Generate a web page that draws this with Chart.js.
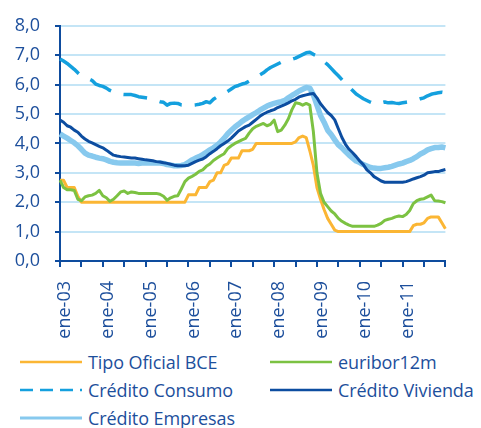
<!DOCTYPE html>
<html>
<head>
<meta charset="utf-8">
<script src="https://cdn.jsdelivr.net/npm/chart.js@4"></script>
<style>
  html, body { margin: 0; padding: 0; background: #fff; }
  body { width: 481px; height: 428px; position: relative; overflow: hidden; font-family: "Open Sans", sans-serif; }
  #wrap { position: absolute; left: 0; top: 0; width: 481px; height: 345px; }
  .lg { position: absolute; height: 24px; display: flex; align-items: center; color: #1d4f9c; font-size: 18px; white-space: nowrap; letter-spacing: -0.1px; }
  .lg svg { margin-right: 6px; }
</style>
</head>
<body>
<div id="wrap"><canvas id="c"></canvas></div>
<div id="legend"></div>
<script>
// ---- data (monthly, ene-03 .. ene-12) ----
const months = ['ene','feb','mar','abr','may','jun','jul','ago','sep','oct','nov','dic'];
const categories = [];
for (let y = 3; y <= 12; y++) {
  for (let m = 0; m < 12; m++) {
    if (y === 12 && m > 0) break;
    categories.push(months[m] + '-' + String(y).padStart(2, '0'));
  }
}

const tipoOficialBCE = [
  2.75, 2.75, 2.5, 2.5, 2.5, 2.2, 2.0, 2.0, 2.0, 2.0, 2.0, 2.0,
  2.0, 2.0, 2.0, 2.0, 2.0, 2.0, 2.0, 2.0, 2.0, 2.0, 2.0, 2.0,
  2.0, 2.0, 2.0, 2.0, 2.0, 2.0, 2.0, 2.0, 2.0, 2.0, 2.0, 2.0,
  2.25, 2.25, 2.25, 2.5, 2.5, 2.5, 2.7, 2.75, 3.0, 3.0, 3.25, 3.3,
  3.5, 3.5, 3.5, 3.75, 3.75, 3.75, 3.8, 4.0, 4.0, 4.0, 4.0, 4.0,
  4.0, 4.0, 4.0, 4.0, 4.0, 4.0, 4.05, 4.2, 4.25, 4.2, 3.75, 3.25,
  2.5, 2.1, 1.75, 1.45, 1.25, 1.05, 1.0, 1.0, 1.0, 1.0, 1.0, 1.0,
  1.0, 1.0, 1.0, 1.0, 1.0, 1.0, 1.0, 1.0, 1.0, 1.0, 1.0, 1.0,
  1.0, 1.0, 1.0, 1.2, 1.25, 1.25, 1.3, 1.45, 1.5, 1.5, 1.5, 1.3,
  1.1
];
const euribor12m = [
  2.75, 2.5, 2.42, 2.42, 2.4, 2.1, 2.05, 2.18, 2.22, 2.24, 2.3, 2.4,
  2.22, 2.15, 2.03, 2.1, 2.22, 2.35, 2.38, 2.3, 2.35, 2.33, 2.3, 2.3,
  2.3, 2.3, 2.3, 2.3, 2.27, 2.2, 2.07, 2.15, 2.2, 2.22, 2.45, 2.7,
  2.82, 2.88, 2.95, 3.05, 3.1, 3.22, 3.3, 3.42, 3.5, 3.58, 3.65, 3.82,
  3.92, 4.0, 4.06, 4.12, 4.17, 4.35, 4.5, 4.58, 4.63, 4.68, 4.6, 4.65,
  4.79, 4.4, 4.45, 4.62, 4.84, 5.15, 5.38, 5.36, 5.3, 5.36, 5.3, 4.4,
  3.0, 2.3, 2.0, 1.85, 1.7, 1.6, 1.45, 1.35, 1.28, 1.22, 1.18, 1.18,
  1.18, 1.18, 1.18, 1.18, 1.18, 1.22, 1.28, 1.38, 1.42, 1.45, 1.5, 1.53,
  1.51, 1.58, 1.72, 1.95, 2.05, 2.1, 2.12, 2.18, 2.24, 2.05, 2.04, 2.02,
  1.98
];
const creditoConsumo = [
  6.87, 6.8, 6.72, 6.62, 6.52, 6.4, 6.3, 6.25, 6.2, 6.14, 6.02, 5.97,
  5.94, 5.88, 5.8, 5.75, 5.7, 5.67, 5.66, 5.66, 5.66, 5.63, 5.59, 5.57,
  5.55, 5.53, 5.5, 5.46, 5.42, 5.4, 5.3, 5.36, 5.37, 5.36, 5.31, 5.3,
  5.3, 5.3, 5.31, 5.33, 5.36, 5.42, 5.38, 5.5, 5.58, 5.64, 5.7, 5.77,
  5.85, 5.93, 5.97, 6.02, 6.05, 6.12, 6.2, 6.27, 6.33, 6.4, 6.5, 6.58,
  6.64, 6.7, 6.76, 6.8, 6.83, 6.86, 6.9, 6.96, 7.02, 7.08, 7.1, 7.03,
  6.98, 6.9, 6.78, 6.68, 6.55, 6.42, 6.3, 6.17, 6.04, 5.92, 5.8, 5.68,
  5.6, 5.52, 5.46, 5.4, 5.35, 5.33, 5.38, 5.41, 5.38, 5.39, 5.37, 5.36,
  5.38, 5.4, 5.42, 5.45, 5.48, 5.52, 5.55, 5.62, 5.67, 5.7, 5.72, 5.74,
  5.72
];
const creditoVivienda = [
  4.8, 4.72, 4.6, 4.55, 4.45, 4.38, 4.25, 4.15, 4.07, 4.02, 3.96, 3.9,
  3.85, 3.77, 3.68, 3.6, 3.57, 3.55, 3.54, 3.52, 3.5, 3.5, 3.48, 3.46,
  3.44, 3.43, 3.41, 3.38, 3.37, 3.34, 3.32, 3.29, 3.26, 3.24, 3.24, 3.24,
  3.26, 3.32, 3.38, 3.43, 3.47, 3.55, 3.65, 3.73, 3.82, 3.92, 4.0, 4.08,
  4.18, 4.3, 4.42, 4.5, 4.57, 4.62, 4.72, 4.82, 4.92, 5.0, 5.06, 5.11,
  5.15, 5.22, 5.27, 5.32, 5.38, 5.45, 5.5, 5.58, 5.62, 5.65, 5.68, 5.7,
  5.55, 5.35, 5.2, 5.05, 4.95, 4.8, 4.5, 4.2, 3.97, 3.8, 3.68, 3.55,
  3.4, 3.28, 3.1, 3.0, 2.87, 2.8, 2.72, 2.68, 2.68, 2.68, 2.68, 2.68,
  2.68, 2.7, 2.74, 2.79, 2.83, 2.87, 2.92, 3.0, 3.02, 3.04, 3.04, 3.08,
  3.11
];
const creditoEmpresas = [
  4.32, 4.25, 4.18, 4.1, 4.02, 3.92, 3.8, 3.67, 3.6, 3.57, 3.53, 3.5,
  3.48, 3.44, 3.39, 3.36, 3.34, 3.33, 3.33, 3.33, 3.33, 3.33, 3.32, 3.33,
  3.33, 3.33, 3.33, 3.33, 3.33, 3.32, 3.28, 3.26, 3.24, 3.24, 3.25, 3.28,
  3.36, 3.44, 3.5, 3.55, 3.62, 3.7, 3.78, 3.85, 3.94, 4.05, 4.18, 4.33,
  4.45, 4.56, 4.65, 4.75, 4.83, 4.9, 4.98, 5.05, 5.13, 5.2, 5.27, 5.32,
  5.36, 5.39, 5.42, 5.46, 5.55, 5.63, 5.7, 5.78, 5.84, 5.9, 5.88, 5.65,
  5.3, 4.95, 4.72, 4.45, 4.3, 4.12, 3.95, 3.85, 3.72, 3.6, 3.5, 3.4,
  3.35, 3.28, 3.23, 3.18, 3.16, 3.15, 3.15, 3.17, 3.19, 3.22, 3.26, 3.3,
  3.33, 3.38, 3.42, 3.48, 3.55, 3.64, 3.7, 3.78, 3.82, 3.86, 3.86, 3.88,
  3.85
];
const seriesNames = ['Tipo Oficial BCE', 'euribor12m', 'Crédito Consumo', 'Crédito Vivienda', 'Crédito Empresas'];
const yTicks = [0, 1, 2, 3, 4, 5, 6, 7, 8];

// ---- styling ----
const TEXT = '#1d4f9c';
const AXIS = '#0e4c9e';
const GRID = '#c4e5f6';
const COLORS = ['#fbb634', '#7cc242', '#14a0de', '#0c4da0', '#87c9ee'];
const WIDTHS = [3, 3, 3.5, 3, 5.5];
const DASHES = [[], [], [24, 13], [], []];
const ORDER = [1, 0, 2, 3, 4]; // lower = drawn on top
const values = [tipoOficialBCE, euribor12m, creditoConsumo, creditoVivienda, creditoEmpresas];

const datasets = seriesNames.map((name, i) => ({
  label: name,
  data: values[i],
  borderColor: COLORS[i],
  backgroundColor: COLORS[i],
  borderWidth: WIDTHS[i],
  borderDash: DASHES[i],
  pointRadius: 0,
  tension: 0,
  fill: false,
  order: ORDER[i],
  borderJoinStyle: 'round',
  borderCapStyle: 'butt'
}));

Chart.defaults.font.family = '"Open Sans", sans-serif';

new Chart(document.getElementById('c'), {
  type: 'line',
  data: { labels: categories, datasets },
  options: {
    responsive: true,
    maintainAspectRatio: false,
    animation: false,
    events: [],
    layout: { padding: { top: 17, right: 6, left: 0, bottom: 0 } },
    plugins: { legend: { display: false }, tooltip: { enabled: false } },
    scales: {
      x: {
        type: 'category',
        offset: false,
        border: { display: true, color: AXIS, width: 2 },
        grid: {
          drawOnChartArea: false,
          drawTicks: true,
          tickLength: 6,
          lineWidth: 2,
          color: (ctx) => (ctx.index % 6 === 0 ? AXIS : 'rgba(0,0,0,0)'),
          tickColor: (ctx) => (ctx.index % 6 === 0 ? AXIS : 'rgba(0,0,0,0)')
        },
        ticks: {
          autoSkip: false,
          maxRotation: 90,
          minRotation: 90,
          padding: 14,
          labelOffset: 5,
          color: TEXT,
          font: { size: 18 },
          callback: function (v, i) {
            return (i % 12 === 0 && i < categories.length - 1) ? categories[i] : '';
          }
        },
        afterFit: (s) => { s.height = 84; }
      },
      y: {
        min: yTicks[0],
        max: yTicks[yTicks.length - 1],
        border: { display: true, color: AXIS, width: 2 },
        grid: {
          color: GRID,
          lineWidth: 2,
          drawTicks: true,
          tickLength: 5,
          tickColor: AXIS
        },
        afterBuildTicks: (s) => { s.ticks = yTicks.map(v => ({ value: v })); },
        ticks: {
          padding: 15,
          color: TEXT,
          font: { size: 18 },
          callback: (v) => Number(v).toFixed(1).replace('.', ',')
        },
        afterFit: (s) => { s.width = 60; }
      }
    }
  }
});

// ---- legend (HTML) ----
const legendPos = [
  { x: 20, y: 362 }, { x: 270, y: 362 },
  { x: 20, y: 390 }, { x: 270, y: 390 },
  { x: 20, y: 418 }
];
const legendDash = [null, null, '13 7', null, null];
const legendWidth = [2.5, 2.5, 2.5, 2.5, 3];
const lg = document.getElementById('legend');
seriesNames.forEach((name, i) => {
  const d = document.createElement('div');
  d.className = 'lg';
  d.style.left = legendPos[i].x + 'px';
  d.style.top = (legendPos[i].y - 12) + 'px';
  const dash = legendDash[i] ? ` stroke-dasharray="${legendDash[i]}"` : '';
  d.innerHTML = `<svg width="62" height="6"><line x1="0" y1="3" x2="62" y2="3" stroke="${COLORS[i]}" stroke-width="${legendWidth[i]}"${dash}/></svg><span>${name}</span>`;
  lg.appendChild(d);
});
</script>
</body>
</html>
